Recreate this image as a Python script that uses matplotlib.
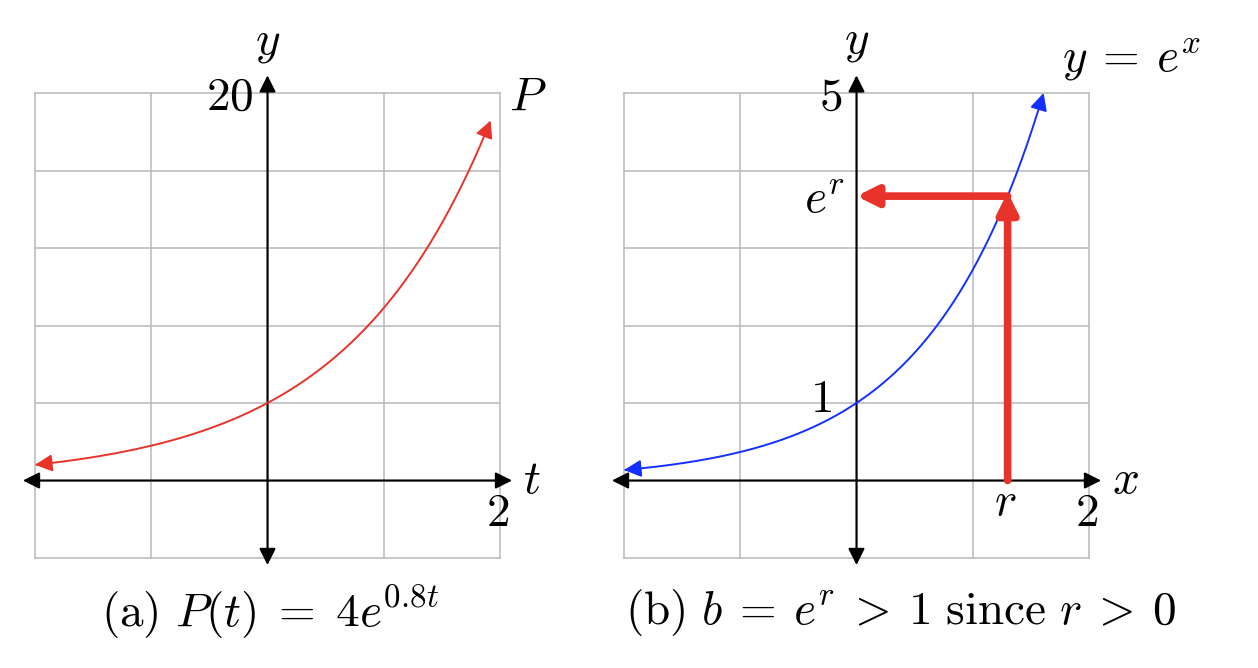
import matplotlib
matplotlib.use("Agg")
import matplotlib.pyplot as plt
import numpy as np
from matplotlib.patches import FancyArrowPatch
from matplotlib.path import Path

plt.rcParams['mathtext.fontset'] = 'cm'
plt.rcParams['font.family'] = 'DejaVu Serif'

# panel (a): P(t) = 4 e^{0.8 t}
P0 = 4
k = 0.8
t_range = (-2, 1.92)
a_xticks = [-2, -1, 0, 1, 2]
a_yticks = [-4, 0, 4, 8, 12, 16, 20]

# panel (b): y = e^x, with r marked
r = 1.3
b_range = (-2, np.log(5))
b_xticks = [-2, -1, 0, 1, 2]
b_yticks = [-1, 0, 1, 2, 3, 4, 5]

RED = '#e8332a'
BLUE = '#1430ff'
GRID = '#bdbdbd'
FS = 34

fig = plt.figure(figsize=(12.58, 6.68), dpi=100)
axa = fig.add_axes([35 / 1258, 110 / 668, 465 / 1258, 465 / 668])
axb = fig.add_axes([624 / 1258, 110 / 668, 465 / 1258, 465 / 668])


def setup(ax, xt, yt):
    ax.set_xlim(xt[0], xt[-1])
    ax.set_ylim(yt[0], yt[-1])
    ax.axis('off')
    for v in xt:
        ax.plot([v, v], [yt[0], yt[-1]], color=GRID, lw=1.2, clip_on=False, zorder=1)
    for v in yt:
        ax.plot([xt[0], xt[-1]], [v, v], color=GRID, lw=1.2, clip_on=False, zorder=1)
    dx = (xt[-1] - xt[0]) * 0.026
    dy = (yt[-1] - yt[0]) * 0.038
    ax.annotate('', xy=(xt[-1] + dx, 0), xytext=(xt[0] - dx, 0), annotation_clip=False,
                arrowprops=dict(arrowstyle='<|-|>', lw=1.5, color='k', mutation_scale=25,
                                shrinkA=0, shrinkB=0), zorder=3)
    ax.annotate('', xy=(0, yt[-1] + dy), xytext=(0, yt[0] - dy * 0.4), annotation_clip=False,
                arrowprops=dict(arrowstyle='<|-|>', lw=1.5, color='k', mutation_scale=25,
                                shrinkA=0, shrinkB=0), zorder=3)


def curve(ax, x, y, color):
    p = FancyArrowPatch(path=Path(np.column_stack([x, y])), arrowstyle='<|-|>',
                        mutation_scale=26, lw=1.4, color=color, transform=ax.transData,
                        clip_on=False, zorder=4)
    ax.add_patch(p)


setup(axa, a_xticks, a_yticks)
t = np.linspace(t_range[0], t_range[1], 300)
curve(axa, t, P0 * np.exp(k * t), RED)
axa.text(0, 22.6, r'$y$', fontsize=FS, ha='center', va='center')
axa.text(-0.12, 19.8, r'$20$', fontsize=FS, ha='right', va='center')
axa.text(2.08, 19.8, r'$P$', fontsize=FS, ha='left', va='center')
axa.text(2.2, 0, r'$t$', fontsize=FS, ha='left', va='center')
axa.text(1.98, -1.7, r'$2$', fontsize=FS, ha='center', va='center')
fig.text(270 / 1258, 1 - 612 / 668, r'$\mathrm{(a)}\ P(t)\;=\;4e^{0.8t}$', fontsize=FS,
         ha='center', va='center')

setup(axb, b_xticks, b_yticks)
x = np.linspace(b_range[0], b_range[1], 300)
curve(axb, x, np.exp(x), BLUE)
er = np.exp(r)
axb.annotate('', xy=(r, er + 0.05), xytext=(r, 0), annotation_clip=False,
             arrowprops=dict(arrowstyle='-|>', lw=5.5, color=RED, mutation_scale=30,
                             shrinkA=0, shrinkB=0, capstyle='round'), zorder=5)
axb.annotate('', xy=(0, er), xytext=(r, er), annotation_clip=False,
             arrowprops=dict(arrowstyle='-|>', lw=5.5, color=RED, mutation_scale=30,
                             shrinkA=0, shrinkB=0), zorder=5)
axb.text(0, 5.66, r'$y$', fontsize=FS, ha='center', va='center')
axb.text(1.77, 5.43, r'$y\:=\:e^x$', fontsize=FS, ha='left', va='center')
axb.text(-0.12, 4.95, r'$5$', fontsize=FS, ha='right', va='center')
axb.text(-0.1, 3.62, r'$e^r$', fontsize=FS, ha='right', va='center')
axb.text(-0.21, 1.05, r'$1$', fontsize=FS, ha='right', va='center')
axb.text(r - 0.02, -0.28, r'$r$', fontsize=FS, ha='center', va='center')
axb.text(1.98, -0.42, r'$2$', fontsize=FS, ha='center', va='center')
axb.text(2.2, 0, r'$x$', fontsize=FS, ha='left', va='center')
fig.text(901 / 1258, 1 - 612 / 668,
         r'$\mathrm{(b)}\ b\:=\:e^r\:>\:1\ \mathrm{since}\ r\:>\:0$',
         fontsize=FS, ha='center', va='center')

fig.savefig('out.png', dpi=100)
